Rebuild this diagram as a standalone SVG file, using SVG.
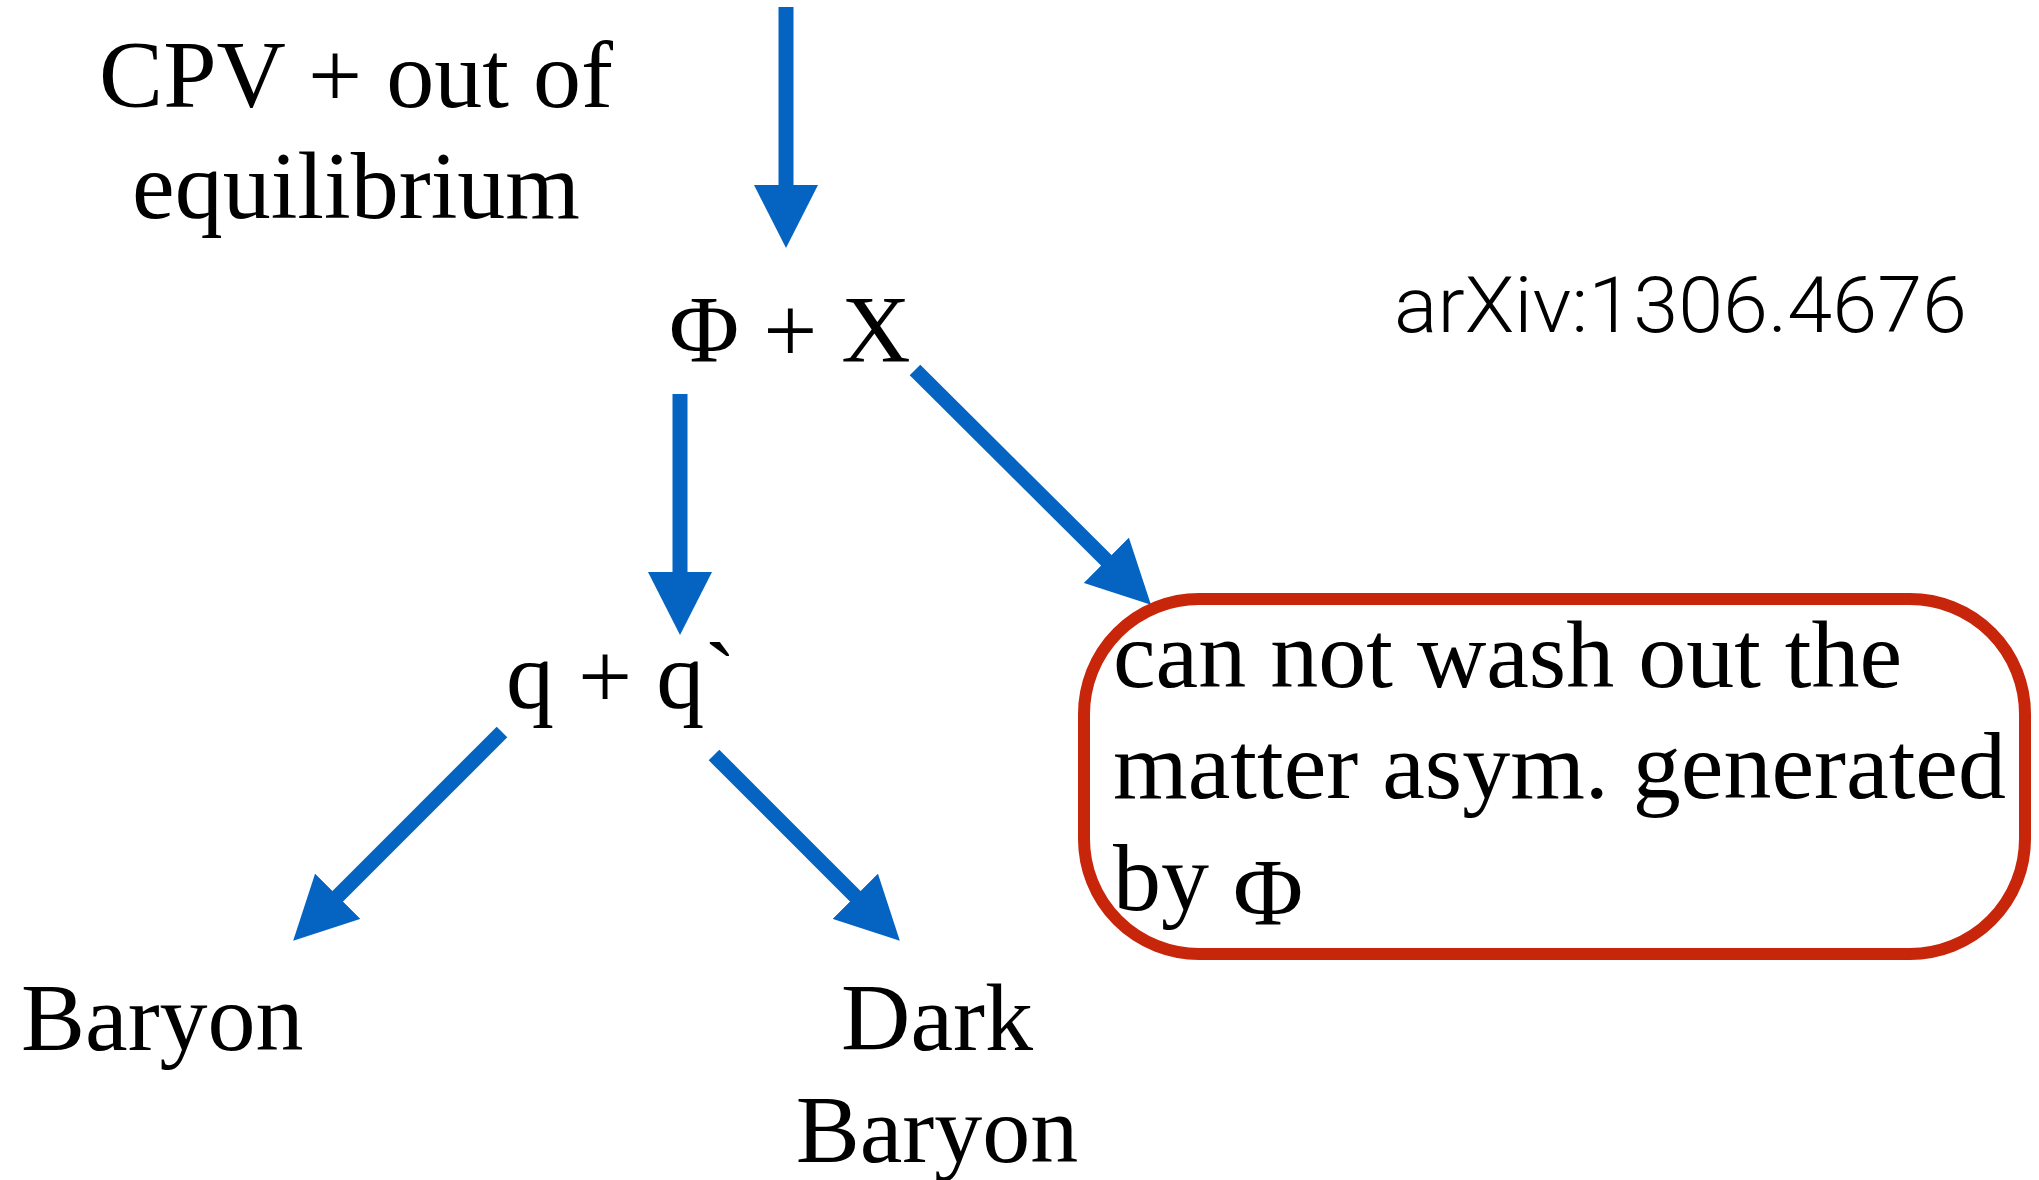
<svg xmlns="http://www.w3.org/2000/svg" width="2039" height="1180" viewBox="0 0 2039 1180">
<style>
.t{font-family:"Liberation Serif","Times New Roman",serif;font-size:96px;fill:#000}
.c{stroke:#0564C1;stroke-width:15;fill:none}
.ref{font-family:Roboto,"Liberation Sans",sans-serif;font-weight:300;font-size:78px;fill:#000}
</style>
<defs>
<marker id="ah" markerUnits="userSpaceOnUse" viewBox="0 0 63 64" refX="1" refY="32" markerWidth="63" markerHeight="64" orient="auto">
<path d="M0,0 L63,32 L0,64 Z" fill="#0564C1"/>
</marker>
</defs>
<rect width="2039" height="1180" fill="#fff"/>
<g id="connectors">
<line class="c" x1="786" y1="7" x2="786" y2="186" marker-end="url(#ah)"/>
<line class="c" x1="680" y1="394" x2="680" y2="573" marker-end="url(#ah)"/>
<line class="c" x1="915" y1="370" x2="1107" y2="561" marker-end="url(#ah)"/>
<line class="c" x1="502" y1="732" x2="337" y2="897" marker-end="url(#ah)"/>
<line class="c" x1="714" y1="755" x2="856" y2="897" marker-end="url(#ah)"/>
</g>
<g id="cpv">
<text class="t" x="356" y="107" text-anchor="middle">CPV + out of</text>
<text class="t" x="356" y="218" text-anchor="middle">equilibrium</text>
</g>
<g id="phix">
<text class="t" x="669" y="362">Φ + X</text>
</g>
<g id="qq">
<text class="t" x="506" y="708">q + q`</text>
</g>
<g id="baryon">
<text class="t" x="21" y="1050">Baryon</text>
</g>
<g id="darkbaryon">
<text class="t" x="937" y="1050" text-anchor="middle">Dark</text>
<text class="t" x="937" y="1162" text-anchor="middle">Baryon</text>
</g>
<g id="washout">
<rect x="1084" y="599" width="941" height="355" rx="115" ry="115" fill="none" stroke="#C7260A" stroke-width="12"/>
<text class="t" x="1113" y="687">can not wash out the</text>
<text class="t" x="1113" y="798">matter asym. generated</text>
<text class="t" x="1113" y="910">by <tspan dy="15">Φ</tspan></text>
</g>
<g id="ref">
<text class="ref" x="1394" y="332" textLength="573" lengthAdjust="spacingAndGlyphs">arXiv:1306.4676</text>
</g>
</svg>
